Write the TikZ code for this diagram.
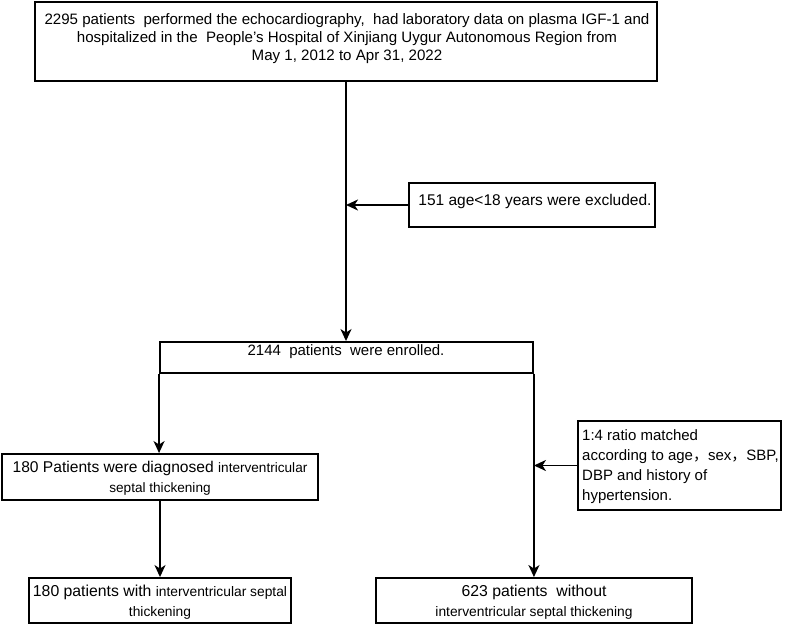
\documentclass[tikz,border=0pt]{standalone}
\usepackage{fontspec}
\setmainfont{Liberation Sans}
\newfontfamily\cjk{Noto Sans CJK SC}
\usetikzlibrary{arrows.meta}
\newcommand{\fs}[2]{\fontsize{#1}{#2}\selectfont}
\begin{document}
\begin{tikzpicture}[x=1pt,y=-1pt,
  box/.style={draw, line width=1.9pt, inner sep=0pt},
  txt/.style={inner sep=0pt, align=center, font=\fs{15}{18}},
  arr/.style={line width=1.8pt, -{Stealth[length=12pt,width=11pt,inset=3.5pt]}}]
\useasboundingbox (0,0) rectangle (787,629);
% boxes
\node[box, minimum width=622, minimum height=79] (top) at (346,41.5) {};
\node[box, minimum width=246, minimum height=44] (excl) at (532,205) {};
\node[box, minimum width=373, minimum height=31] (enr) at (346.5,357.5) {};
\node[box, minimum width=316, minimum height=46] (diag) at (160,477) {};
\node[box, minimum width=203, minimum height=89] (match) at (679.5,465.5) {};
\node[box, minimum width=262, minimum height=45] (botL) at (160,600.5) {};
\node[box, minimum width=316, minimum height=45] (botR) at (534,600.5) {};
% texts
\node[txt, font=\fs{15.1}{18.2}] (topT) at (347,38.5) {2295 patients\ \ performed the echocardiography,\ \ had laboratory data on plasma IGF-1 and\\
hospitalized in the\ \ People's Hospital of Xinjiang Uygur Autonomous Region from\\
May 1, 2012 to Apr 31, 2022};
\node[txt, font=\fs{15.5}{18}] (exclT) at (535,201) {151 age<18 years were excluded.};
\node[txt] (enrT) at (346,352) {2144\ \ patients\ \ were enrolled.};
\node[txt, font=\fs{15.6}{20}] (diagT) at (160,478) {180 Patients were diagnosed {\fs{13.6}{20}interventricular}\\ {\fs{13.6}{20}septal thickening}};
\node[txt, align=left, anchor=west, font=\fs{15}{20}] (matchT) at (582,467) {1:4 ratio matched\\ according to age{\cjk，}sex{\cjk，}SBP,\\ DBP and history of\\ hypertension.};
\node[txt, font=\fs{15.8}{20}] (botLT) at (160,602) {180 patients with {\fs{13.8}{20}interventricular septal}\\ {\fs{13.8}{20}thickening}};
\node[txt, font=\fs{15.8}{20}] (botRT) at (534,602) {623 patients\ \ without\\ {\fs{13.8}{20}interventricular septal thickening}};
% connectors
\draw[arr] (top.south) -- (top.south |- enr.north);
\draw[arr] (excl.west) -- (excl.west -| top.south);
\draw[arr] (enr.south west) -- (enr.south west |- diag.north);
\draw[arr] (diag.south) -- (diag.south |- botL.north);
\draw[arr] (enr.south east) -- (enr.south east |- botR.north);
\draw[arr] (match.west) -- (match.west -| enr.south east);
\end{tikzpicture}
\end{document}
